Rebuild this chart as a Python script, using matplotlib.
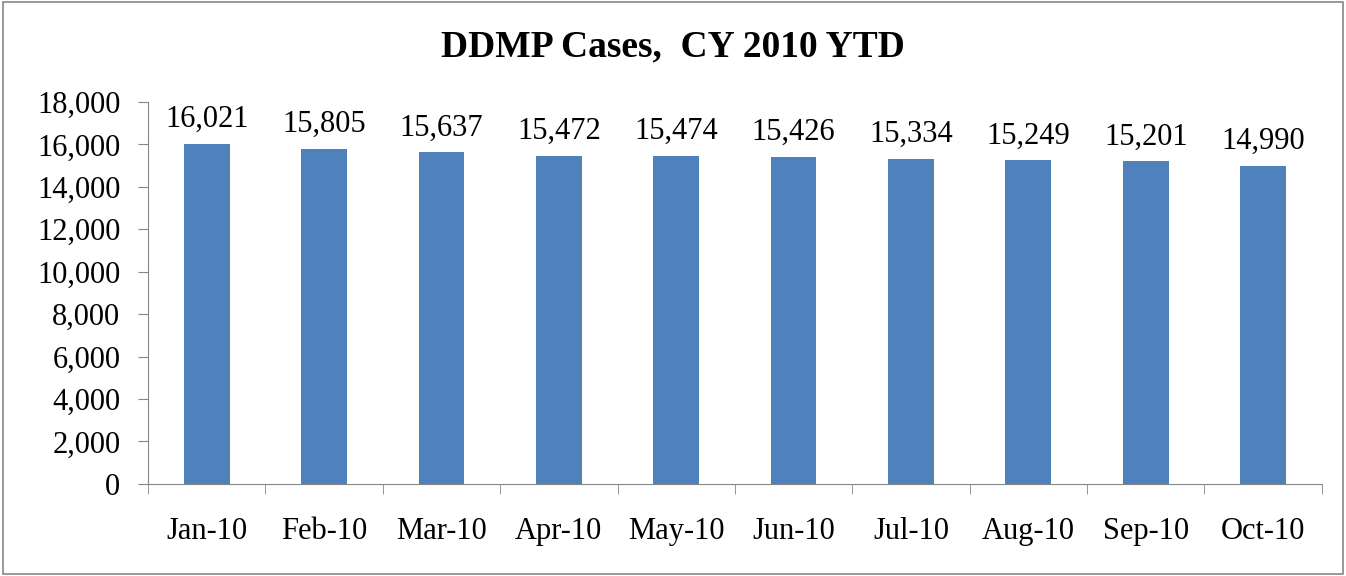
import matplotlib.pyplot as plt
import numpy as np
from matplotlib.patches import Rectangle

months = ["Jan-10", "Feb-10", "Mar-10", "Apr-10", "May-10",
          "Jun-10", "Jul-10", "Aug-10", "Sep-10", "Oct-10"]
cases = [16021, 15805, 15637, 15472, 15474, 15426, 15334, 15249, 15201, 14990]
yticks = list(range(0, 18001, 2000))

plt.rcParams['font.family'] = ['Liberation Serif', 'DejaVu Serif']

fig = plt.figure(figsize=(13.46, 5.76), dpi=100)
ax = fig.add_axes([0.110, 0.160, 0.872, 0.663])

x = np.arange(len(months))
ax.bar(x, cases, width=0.39, color="#4F81BD", zorder=2)

for xi, v in zip(x, cases):
    ax.annotate(f"{v:,}", (xi, v), xytext=(0, 7), textcoords="offset points",
                ha="center", va="bottom", fontsize=22)

ax.set_xlim(-0.5, len(months) - 0.5)
ax.set_ylim(0, 18000)
ax.set_yticks(yticks)
ax.set_yticklabels([f"{t:,}" for t in yticks], fontsize=22)
ax.set_xticks(x)
ax.set_xticklabels(months, fontsize=22)
ax.set_xticks(np.arange(-0.5, len(months)), minor=True)
ax.tick_params(axis="x", which="major", length=0, pad=24)
ax.tick_params(axis="x", which="minor", length=7, color="#868686", direction="out")
ax.tick_params(axis="y", length=7, color="#868686", direction="out", pad=13)

for s in ["top", "right"]:
    ax.spines[s].set_visible(False)
for s in ["left", "bottom"]:
    ax.spines[s].set_color("#868686")

fig.text(0.5, 0.918, "DDMP Cases,  CY 2010 YTD", ha="center", va="center",
         fontsize=27, fontweight="bold")

fig.patches.append(Rectangle((0.002, 0.003), 0.996, 0.994, transform=fig.transFigure,
                             fill=False, edgecolor="#868686", linewidth=1.2))

fig.savefig("out.png", dpi=100)
